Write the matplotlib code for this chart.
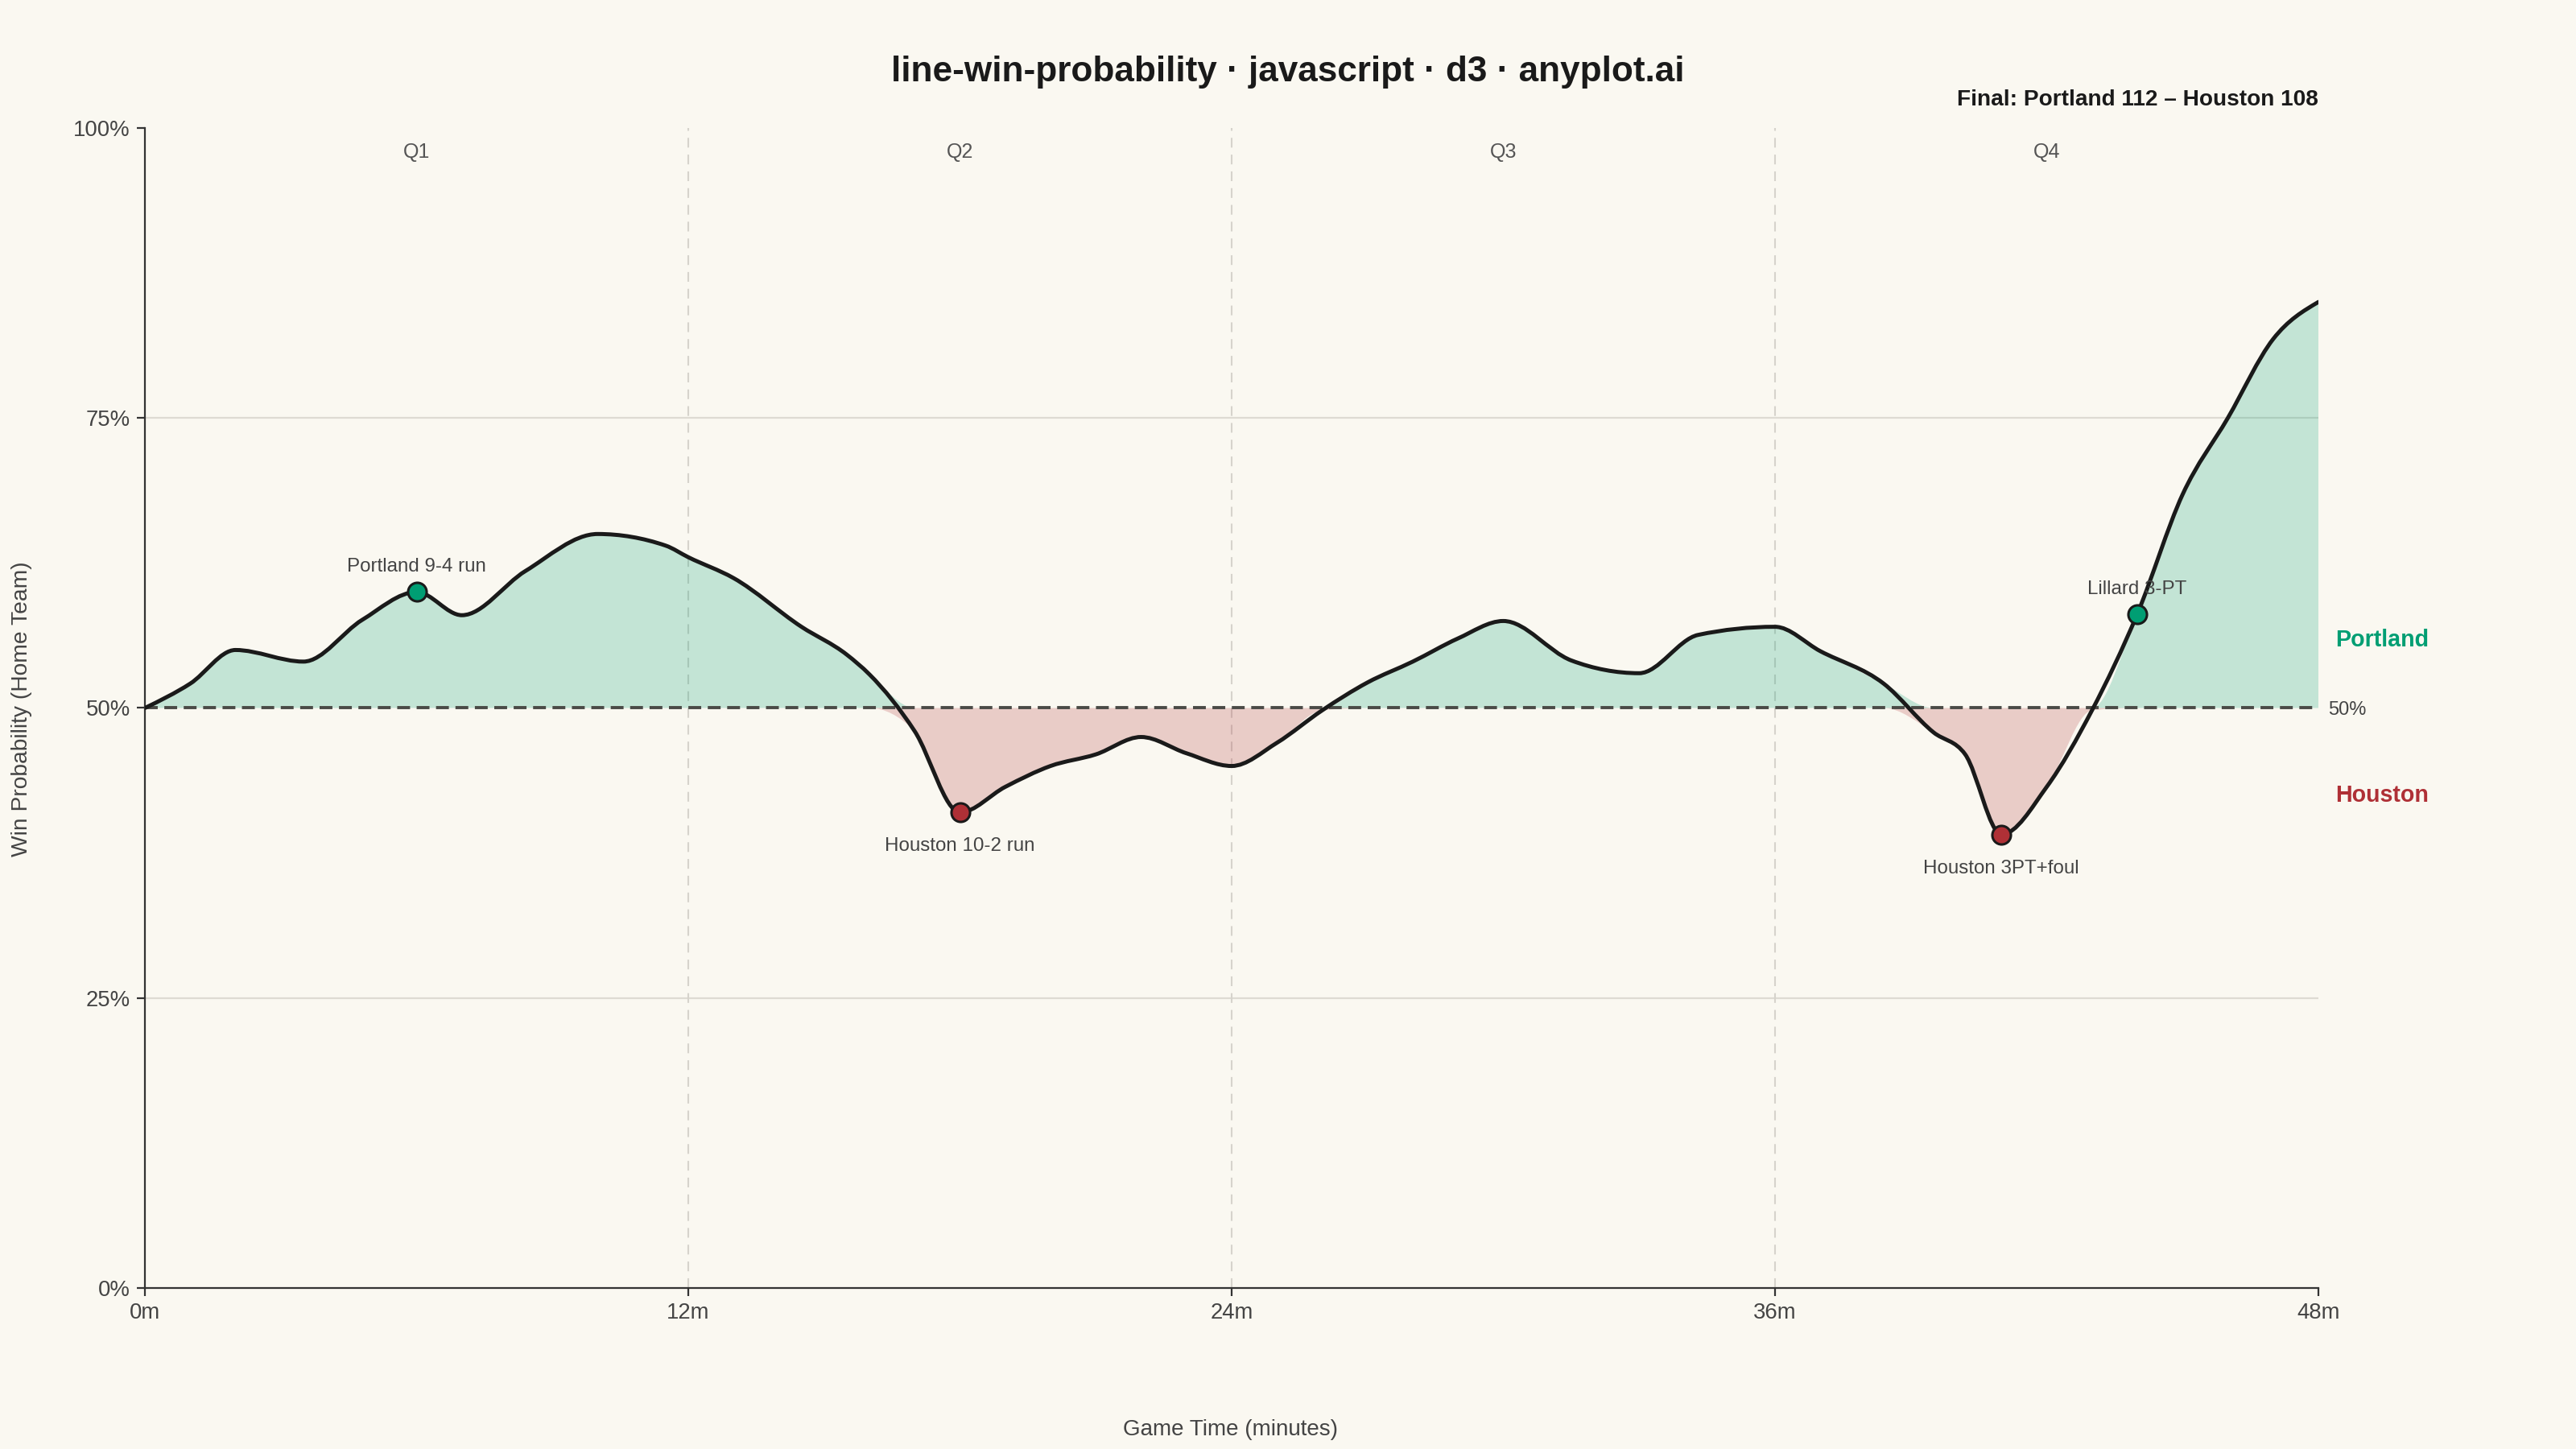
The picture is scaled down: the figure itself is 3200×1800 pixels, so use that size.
import numpy as np
import matplotlib
matplotlib.use("Agg")
import matplotlib.pyplot as plt
from matplotlib.path import Path
from matplotlib.patches import PathPatch

plt.rcParams['font.family'] = ['Liberation Sans', 'DejaVu Sans']

# ---------------- data ----------------
game_minutes = [0, 1, 2, 3.5, 4.8, 6, 7, 8.4, 10, 11.5, 12, 13, 14.5, 15.5, 16, 17,
                18, 19, 20, 21, 22, 23, 24, 25, 26, 27, 28, 29, 30, 31.5, 33, 34.3,
                36, 37, 38.4, 39.5, 40.2, 41, 42, 43, 44, 45, 46, 47, 48]
win_prob = [50.0, 52.1, 55.0, 54.0, 57.6, 60.0, 58.0, 61.8, 65.0, 64.0, 63.0, 61.2, 57.0, 54.6, 52.9, 48.0,
            41.0, 43.2, 45.0, 46.0, 47.5, 46.1, 45.0, 47.0, 49.8, 52.2, 54.0, 56.0, 57.5, 54.1, 53.0, 56.3,
            57.0, 54.9, 52.1, 47.9, 46.0, 39.1, 43.2, 49.8, 58.1, 68.4, 75.0, 81.8, 85.0]

event_minutes = [6, 18, 41, 44]
event_prob = [60.0, 41.0, 39.1, 58.1]
event_labels = ["Portland 9-4 run", "Houston 10-2 run", "Houston 3PT+foul", "Lillard 3-PT"]
event_team = ["home", "away", "away", "home"]

quarter_lines = [12, 24, 36]
quarter_centers = [6, 18, 30, 42]
quarter_labels = ["Q1", "Q2", "Q3", "Q4"]

x_ticks = [0, 12, 24, 36, 48]
x_tick_labels = ["0m", "12m", "24m", "36m", "48m"]
y_ticks = [0, 25, 50, 75, 100]
y_tick_labels = ["0%", "25%", "50%", "75%", "100%"]

home_team = "Portland"
away_team = "Houston"
final_text = "Final: Portland 112 \u2013 Houston 108"

# ---------------- style ----------------
BG = "#FAF8F1"
GREEN = "#009E73"
RED = "#AF3036"
INK = "#1A1A1A"
MUTED = "#444444"


def monotone_path(xs, ys):
    """Cubic Bezier path using monotone-X tangents (like d3.curveMonotoneX)."""
    xs = np.asarray(xs, float)
    ys = np.asarray(ys, float)
    n = len(xs)
    h = np.diff(xs)
    s = np.diff(ys) / h
    t = np.zeros(n)
    for i in range(1, n - 1):
        s0, s1, h0, h1 = s[i - 1], s[i], h[i - 1], h[i]
        p = (s0 * h1 + s1 * h0) / (h0 + h1)
        t[i] = (np.sign(s0) + np.sign(s1)) * min(abs(s0), abs(s1), 0.5 * abs(p))
    t[0] = (3 * s[0] - t[1]) / 2
    t[-1] = (3 * s[-1] - t[-2]) / 2
    verts = [(xs[0], ys[0])]
    codes = [Path.MOVETO]
    for i in range(n - 1):
        dx = h[i] / 3
        verts += [(xs[i] + dx, ys[i] + dx * t[i]),
                  (xs[i + 1] - dx, ys[i + 1] - dx * t[i + 1]),
                  (xs[i + 1], ys[i + 1])]
        codes += [Path.CURVE4] * 3
    return verts, codes


def area_path(xs, ys, base):
    verts, codes = monotone_path(xs, ys)
    verts = verts + [(xs[-1], base), (xs[0], base), (xs[0], base)]
    codes = codes + [Path.LINETO, Path.LINETO, Path.CLOSEPOLY]
    return Path(verts, codes)


fig = plt.figure(figsize=(16, 9), dpi=200, facecolor=BG)
ax = fig.add_axes([0.05625, 0.11111, 0.84375, 0.80056])
ax.set_facecolor(BG)
ax.set_xlim(0, 48)
ax.set_ylim(0, 100)

# grid
for yv in [25, 75]:
    ax.axhline(yv, color="#DEDBD3", lw=0.8, zorder=0)
for xv in quarter_lines:
    ax.axvline(xv, color="#D6D3CC", lw=0.75, linestyle=(0, (5.8, 4.2)), zorder=0)

# areas
home_vals = [max(v, 50) for v in win_prob]
away_vals = [min(v, 50) for v in win_prob]
ax.add_patch(PathPatch(area_path(game_minutes, home_vals, 50), facecolor=GREEN, alpha=0.22,
                       edgecolor="none", zorder=1))
ax.add_patch(PathPatch(area_path(game_minutes, away_vals, 50), facecolor=RED, alpha=0.22,
                       edgecolor="none", zorder=1))

# 50% reference
ax.axhline(50, color="#4A4A46", lw=1.4, linestyle=(0, (4.1, 2.1)), zorder=2)

# line
lv, lc = monotone_path(game_minutes, win_prob)
ax.add_patch(PathPatch(Path(lv, lc), facecolor="none", edgecolor=INK, lw=1.8,
                       capstyle="round", joinstyle="round", zorder=3))

# events
for xm, ym, lab, team in zip(event_minutes, event_prob, event_labels, event_team):
    col = GREEN if team == "home" else RED
    ax.plot([xm], [ym], marker="o", ms=8.3, mfc=col, mec=INK, mew=1.1, zorder=4)
    off = 11.2 if team == "home" else -15.1
    ax.annotate(lab, (xm, ym), xytext=(0, off), textcoords="offset points",
                ha="center", va="center", fontsize=8.7, color=MUTED, zorder=5)

# quarter labels
for xc, q in zip(quarter_centers, quarter_labels):
    ax.text(xc, 97.9, q, ha="center", va="center", fontsize=9, color="#555555")

# right-side labels
ax.annotate("50%", (48, 50), xytext=(4.3, -0.8), textcoords="offset points",
            ha="left", va="center", fontsize=8.5, color=MUTED, annotation_clip=False)
ax.annotate(home_team, (48, 55.85), xytext=(7.5, 0), textcoords="offset points",
            ha="left", va="center", fontsize=10.3, fontweight="bold", color=GREEN,
            annotation_clip=False)
ax.annotate(away_team, (48, 42.45), xytext=(7.5, 0), textcoords="offset points",
            ha="left", va="center", fontsize=10.3, fontweight="bold", color=RED,
            annotation_clip=False)

# axes styling
for side in ["top", "right"]:
    ax.spines[side].set_visible(False)
for side in ["left", "bottom"]:
    ax.spines[side].set_color("#333333")
    ax.spines[side].set_linewidth(0.8)
ax.set_xticks(x_ticks)
ax.set_xticklabels(x_tick_labels)
ax.set_yticks(y_ticks)
ax.set_yticklabels(y_tick_labels)
ax.tick_params(axis="both", length=3.6, width=0.8, color="#333333", labelsize=9.9,
               labelcolor=MUTED, pad=3)

fig.text(0.0084, 0.511, "Win Probability (Home Team)", rotation=90, ha="center", va="center",
         fontsize=10.2, color=MUTED)
fig.text(0.4778, 0.0133, "Game Time (minutes)", ha="center", va="center", fontsize=10, color=MUTED)
fig.text(0.5, 0.9505, "line-win-probability \u00b7 javascript \u00b7 d3 \u00b7 anyplot.ai",
         ha="center", va="center", fontsize=15.9, fontweight="bold", color=INK)
fig.text(0.9, 0.931, final_text, ha="right", va="center", fontsize=10.1, fontweight="bold", color=INK)

fig.savefig("out.png", dpi=200, facecolor=BG)
